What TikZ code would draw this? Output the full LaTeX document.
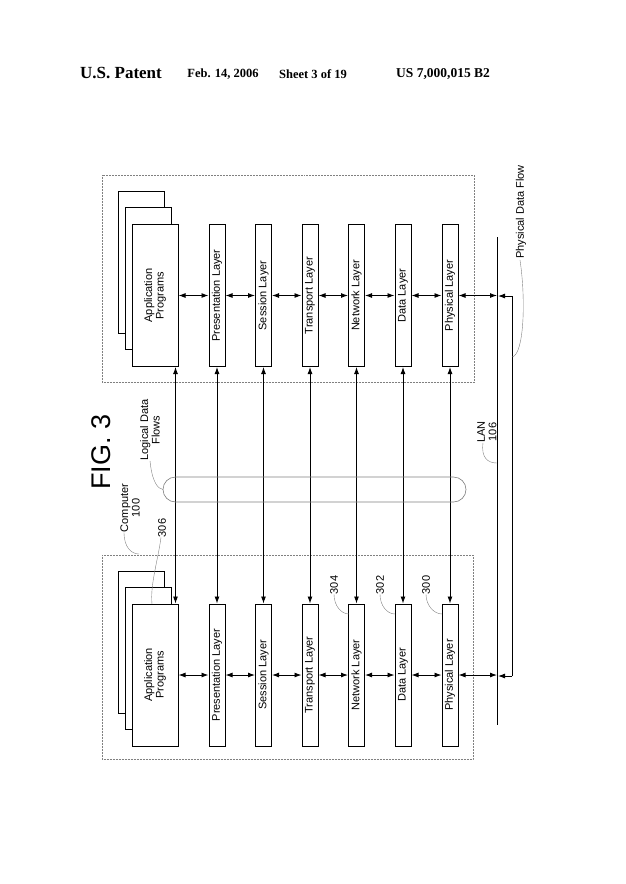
\documentclass[tikz,border=0pt]{standalone}
\usepackage{fontspec}
\setmainfont{Liberation Serif}
\setsansfont{Liberation Sans}
\usetikzlibrary{arrows.meta,calc}

\begin{document}
\begin{tikzpicture}[x=1pt,y=-1pt,>={Latex[length=7pt,width=5pt]},
    layer/.style={draw, line width=1pt, fill=white, rotate=90, minimum width=142pt,
        minimum height=16pt, inner sep=0pt, font=\sffamily\fontsize{11}{11.5}\selectfont},
    apps/.style={layer, minimum height=46pt, align=center},
    flow/.style={<->, line width=0.9pt},
    region/.style={draw=gray, densely dotted, line width=0.5pt},
    leader/.style={gray, line width=0.4pt},
    lbl/.style={rotate=90, font=\sffamily\fontsize{11}{11.5}\selectfont, align=center, inner sep=1pt}]
\useasboundingbox (0,0) rectangle (625,884);

% header
\node[font=\bfseries\fontsize{17}{18}\selectfont] (hpat) at (121,73) {U.S. Patent};
\node[font=\bfseries\fontsize{12.5}{13}\selectfont] (hdate) at (223,74) {Feb. 14, 2006};
\node[font=\bfseries\fontsize{12.5}{13}\selectfont] (hsheet) at (313,74) {Sheet 3 of 19};
\node[font=\bfseries\fontsize{13.5}{14}\selectfont] (hnum) at (443,74) {US 7,000,015 B2};

% computer boundaries
\draw[region] (102,175) rectangle (474,382);
\draw[region] (102,555) rectangle (473,759);

% application programs
\foreach \y/\s in {295.5/T, 675/B} {
    \node[apps] (appC\s) at (141,\y-33) {};
    \node[apps] (appB\s) at (148,\y-17) {};
    \node[apps] (app\s) at (155,\y) {Application\\Programs};
}

% protocol layers
\foreach \x/\n/\t in {217/pres/Presentation Layer, 263.5/sess/Session Layer,
        310/trans/Transport Layer, 356.5/net/Network Layer,
        403/data/Data Layer, 450/phys/Physical Layer} {
    \node[layer] (\n T) at (\x,295.5) {\t};
    \node[layer] (\n B) at (\x,675) {\t};
    \draw[flow] (\n T.west) -- (\n B.east);
}
\draw[flow] ($(appT.south west)+(-3,0)$) -- ($(appB.south east)+(-3,0)$);

% interfaces between layers
\foreach \s in {T,B} {
    \draw[flow] (app\s) -- (pres\s);
    \draw[flow] (pres\s) -- (sess\s);
    \draw[flow] (sess\s) -- (trans\s);
    \draw[flow] (trans\s) -- (net\s);
    \draw[flow] (net\s) -- (data\s);
    \draw[flow] (data\s) -- (phys\s);
}

% LAN and physical data flow
\coordinate (lanT) at (497,237);
\coordinate (lanB) at (497,725);
\coordinate (pfT) at (512,296);
\coordinate (pfB) at (512,676);
\draw[line width=1pt] (lanT) -- (lanB);
\draw[flow] (physT) -- (lanT |- physT);
\draw[flow] (physB) -- (lanT |- physB);
\draw[line width=0.9pt] (pfT) -- (pfB);
\draw[->, line width=0.9pt] (pfT) -- ($(lanT |- pfT)+(1,0)$);
\draw[->, line width=0.9pt] (pfB) -- ($(lanT |- pfB)+(1,0)$);

% logical data flows bundle
\draw[gray, line width=0.6pt, rounded corners=12.5pt] (163,477) rectangle (466,502);

% labels
\node[rotate=90, font=\sffamily\fontsize{27}{28}\selectfont] (fig) at (101,452) {FIG. 3};
\node[lbl] (logical) at (150,430) {Logical Data\\Flows};
\node[lbl] (computer) at (130,508) {Computer\\100};
\node[lbl] (n306) at (162,528) {306};
\node[lbl] (n304) at (334,585) {304};
\node[lbl] (n302) at (380,585) {302};
\node[lbl] (n300) at (426,585) {300};
\node[lbl] (lan) at (487,432) {LAN\\106};
\node[lbl] (physflow) at (521,212) {Physical Data Flow};

% leaders
\draw[leader] (logical.west) ++(0,-1) .. controls (152,482) and (158,489) .. (163,489.5);
\draw[leader] (computer.west) ++(-6,-1) .. controls (124,548) and (132,554) .. (139,554);
\draw[leader] (n306.west) ++(-1,-1) .. controls (158,560) and (150,585) .. (152,604);
\foreach \n/\x in {n304/349, n302/395, n300/442}
    \draw[leader] (\n.west) ++(0,-1) .. controls ($(\n.west)+(0,10)$) and ($(\x,614)+(-8,0)$) .. (\x,614);
\draw[leader] (lan.west) ++(-4,-1) .. controls (481,458) and (488,463) .. (497,463);
\draw[leader] (physflow.west) ++(-1,0) .. controls (526,300) and (524,355) .. (512,357);
\end{tikzpicture}
\end{document}
